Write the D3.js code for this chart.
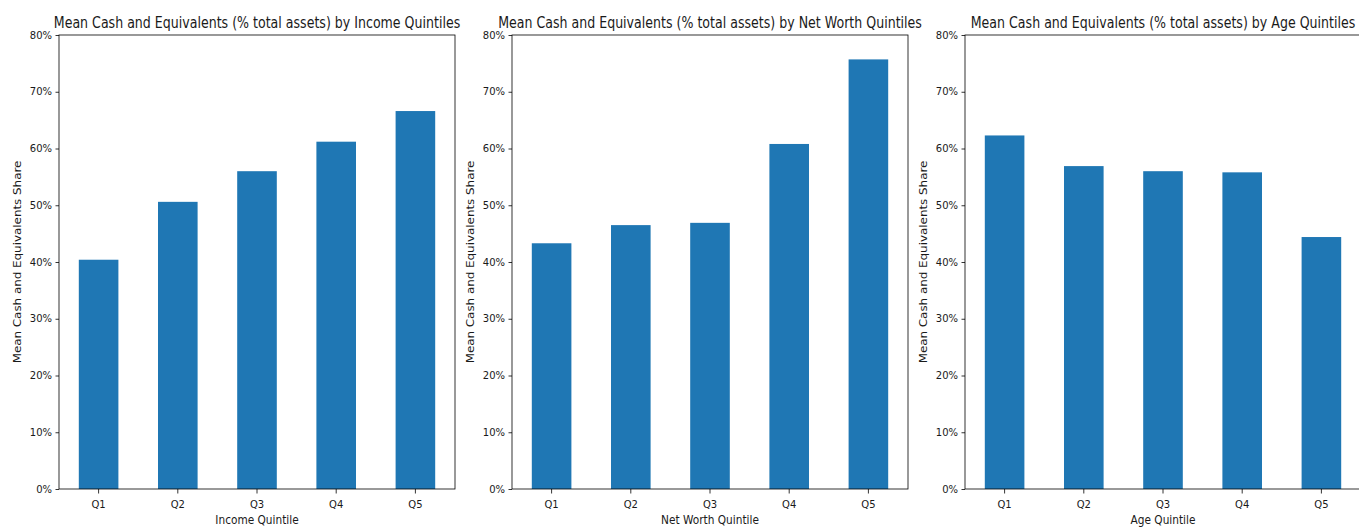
<!DOCTYPE html>
<html>
<head>
<meta charset="utf-8">
<script src="https://cdn.jsdelivr.net/npm/d3@7"></script>
<style>
  html, body { margin: 0; padding: 0; background: #fff; overflow: hidden; }
  svg { display: block; font-family: "DejaVu Sans", sans-serif; }
</style>
</head>
<body>
<svg id="chart" width="1359" height="527"></svg>
<script>
// Quintile categories shared by all three panels
const categories = ["Q1", "Q2", "Q3", "Q4", "Q5"];

// Mean cash and equivalents as a share of total assets
const incomeShare   = [0.404, 0.506, 0.560, 0.612, 0.666];
const netWorthShare = [0.433, 0.465, 0.469, 0.608, 0.757];
const ageShare      = [0.623, 0.569, 0.560, 0.558, 0.444];

// Y-axis tick values (0% .. 80%)
const yTicks = [0, 0.1, 0.2, 0.3, 0.4, 0.5, 0.6, 0.7, 0.8];

const panelTitles = [
  "Mean Cash and Equivalents (% total assets) by Income Quintiles",
  "Mean Cash and Equivalents (% total assets) by Net Worth Quintiles",
  "Mean Cash and Equivalents (% total assets) by Age Quintiles"
];
const xLabels = ["Income Quintile", "Net Worth Quintile", "Age Quintile"];
const yLabel = "Mean Cash and Equivalents Share";

const svg = d3.select("#chart");
const barColor = "#1f77b4";
const textColor = "#1a1a1a";

const plotTop = 35, plotBottom = 489, panelWidth = 396;
const panelLefts = [59, 512, 965];

function drawPanel(left, title, xLabel, values) {
  const g = svg.append("g");
  const x = d3.scaleBand()
    .domain(categories)
    .range([left, left + panelWidth])
    .paddingInner(0.5)
    .paddingOuter(0.25);
  const y = d3.scaleLinear().domain([0, 0.8]).range([plotBottom, plotTop]);

  // bars
  g.selectAll("rect.bar")
    .data(categories.map((c, i) => ({ c, v: values[i] })))
    .join("rect")
    .attr("class", "bar")
    .attr("x", d => x(d.c))
    .attr("width", x.bandwidth())
    .attr("y", d => y(d.v))
    .attr("height", d => y(0) - y(d.v))
    .attr("fill", barColor);

  // y axis
  const yAxis = g.append("g")
    .attr("transform", `translate(${left},0)`)
    .call(d3.axisLeft(y).tickValues(yTicks).tickFormat(d3.format(".0%"))
      .tickSize(3.5).tickPadding(3.5).tickSizeOuter(0));
  yAxis.select(".domain").remove();
  yAxis.selectAll("line").attr("stroke", "#000").attr("stroke-width", 0.8);
  yAxis.selectAll("text").attr("font-size", 10).attr("fill", textColor)
    .attr("font-family", "DejaVu Sans");

  // x axis
  const xAxis = g.append("g")
    .attr("transform", `translate(0,${plotBottom})`)
    .call(d3.axisBottom(x).tickSize(4.5).tickPadding(7.5).tickSizeOuter(0));
  xAxis.select(".domain").remove();
  xAxis.selectAll("line").attr("stroke", "#000").attr("stroke-width", 0.8);
  xAxis.selectAll("text").attr("font-size", 10).attr("fill", textColor)
    .attr("font-family", "DejaVu Sans");

  // frame
  g.append("rect")
    .attr("x", left).attr("y", plotTop)
    .attr("width", panelWidth).attr("height", plotBottom - plotTop)
    .attr("fill", "none").attr("stroke", "#000").attr("stroke-width", 0.8);

  // title
  const cx = left + panelWidth / 2;
  g.append("text")
    .attr("transform", `translate(${cx},27.7) scale(0.84,1)`)
    .attr("text-anchor", "middle")
    .attr("font-size", 15)
    .attr("fill", textColor)
    .text(title);

  // x label
  g.append("text")
    .attr("transform", `translate(${cx},524) scale(0.92,1)`)
    .attr("text-anchor", "middle")
    .attr("font-size", 11.5)
    .attr("fill", textColor)
    .text(xLabel);

  // y label
  g.append("text")
    .attr("transform", `translate(${left - 38.3},${(plotTop + plotBottom) / 2}) rotate(-90) scale(1,0.85)`)
    .attr("text-anchor", "middle")
    .attr("font-size", 11.9)
    .attr("fill", textColor)
    .text(yLabel);
}

const panelValues = [incomeShare, netWorthShare, ageShare];
panelLefts.forEach((left, i) => drawPanel(left, panelTitles[i], xLabels[i], panelValues[i]));
</script>
</body>
</html>
